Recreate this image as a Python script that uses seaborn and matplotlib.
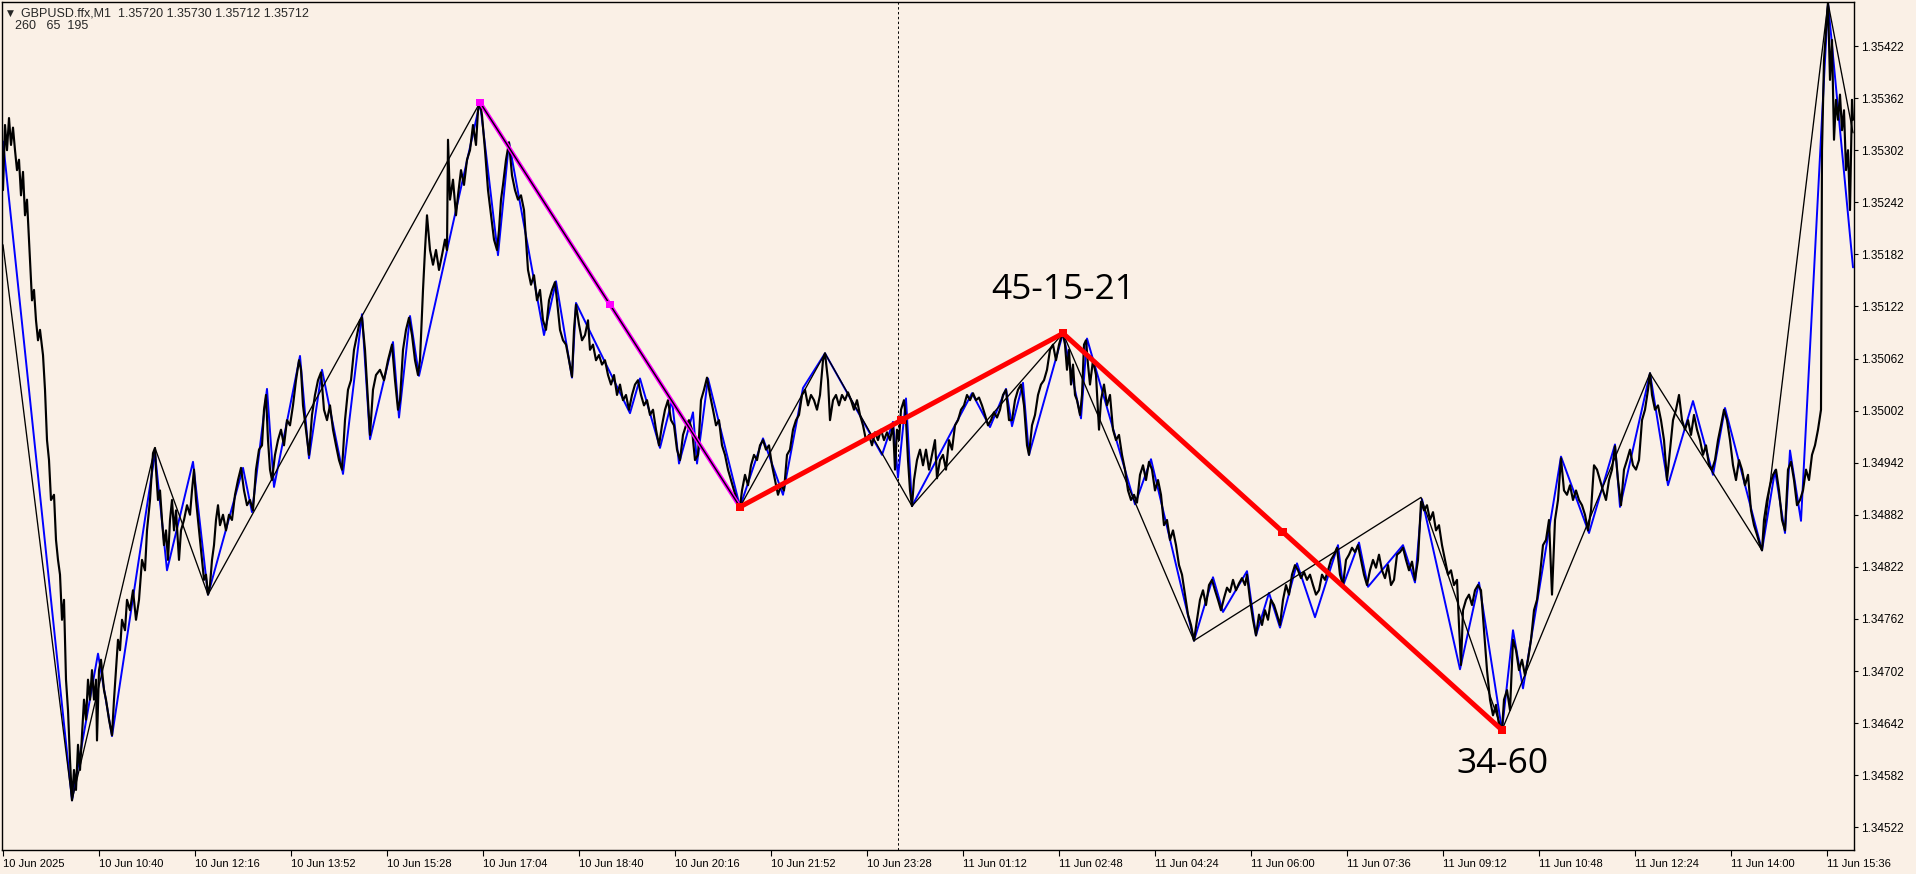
import matplotlib
matplotlib.use("Agg")
import matplotlib.pyplot as plt
import pandas as pd
import seaborn as sns

# bars are 1-minute bars counted from 10 Jun 09:04, prices are in points (1e-5)
SYMBOL = "GBPUSD.ffx,M1"
LAST_OHLC = ["1.35720", "1.35730", "1.35712", "1.35712"]
INFO_LINE = "260   65  195"

time_ticks = [0, 96, 192, 288, 384, 480, 576, 672, 768, 864,
              960, 1056, 1152, 1248, 1344, 1440, 1536, 1632, 1728, 1824]
time_labels = ["10 Jun 2025", "10 Jun 10:40", "10 Jun 12:16", "10 Jun 13:52", "10 Jun 15:28",
               "10 Jun 17:04", "10 Jun 18:40", "10 Jun 20:16", "10 Jun 21:52", "10 Jun 23:28",
               "11 Jun 01:12", "11 Jun 02:48", "11 Jun 04:24", "11 Jun 06:00", "11 Jun 07:36",
               "11 Jun 09:12", "11 Jun 10:48", "11 Jun 12:24", "11 Jun 14:00", "11 Jun 15:36"]
price_levels = ["1.34522", "1.34582", "1.34642", "1.34702", "1.34762", "1.34822", "1.34882",
                "1.34942", "1.35002", "1.35062", "1.35122", "1.35182", "1.35242", "1.35302",
                "1.35362", "1.35422"]
day_separator_bar = 895
view_bars = (-1, 1851)
view_prices = (1.344958, 1.354727)

price_path = [
    (0, 135256), (2, 135331), (4, 135302), (6, 135339), (8, 135308), (10, 135328), (12, 135302),
    (14, 135279), (16, 135291), (18, 135250), (20, 135277), (22, 135227), (24, 135245), (27, 135176),
    (29, 135129), (31, 135141), (33, 135106), (35, 135083), (37, 135095), (40, 135066), (42, 135026),
    (44, 134968), (46, 134945), (48, 134899), (51, 134905), (53, 134853), (55, 134830), (57, 134813),
    (59, 134761), (61, 134784), (63, 134692), (65, 134657), (67, 134600), (69, 134553),
    (71, 134588), (73, 134565), (75, 134617), (77, 134588), (79, 134628), (81, 134669), (83, 134646),
    (85, 134692), (87, 134669), (89, 134703), (91, 134669), (93, 134692), (94, 134622), (96, 134703),
    (98, 134715), (101, 134680), (103, 134669), (106, 134646), (109, 134628), (111, 134669),
    (113, 134703), (115, 134738), (117, 134726), (119, 134761), (122, 134749), (124, 134784),
    (127, 134772), (130, 134795), (133, 134761), (136, 134784), (139, 134830), (142, 134818),
    (144, 134864), (147, 134899), (150, 134953), (152, 134959),
    (153, 134934), (155, 134899), (157, 134910), (159, 134876), (161, 134847), (163, 134864),
    (165, 134830), (167, 134876), (169, 134899), (171, 134864), (173, 134887), (176, 134830),
    (178, 134864), (181, 134876), (184, 134893), (187, 134882), (189, 134910), (191, 134934),
    (193, 134899), (195, 134876), (197, 134853), (199, 134830), (201, 134807), (203, 134813),
    (205, 134790),
    (207, 134801), (209, 134830), (211, 134847), (213, 134876), (215, 134893), (217, 134870),
    (220, 134882), (223, 134864), (226, 134882), (229, 134876), (232, 134905), (235, 134922),
    (238, 134936), (241, 134910), (244, 134893), (247, 134899), (250, 134887), (253, 134934),
    (256, 134957), (259, 134962), (261, 135003), (263, 135020), (265, 134968), (267, 134934),
    (269, 134922), (272, 134951), (275, 134968), (278, 134980), (281, 134962), (284, 134991),
    (287, 134985), (290, 135008), (293, 135037), (296, 135060), (298, 135049), (300, 135008),
    (303, 134980), (306, 134951), (309, 134997), (312, 135020), (315, 135037), (318, 135046),
    (321, 135003), (324, 134991), (327, 135008), (330, 134980), (333, 134962), (336, 134945),
    (339, 134934), (342, 134991), (345, 135026), (348, 135037), (351, 135072), (354, 135089),
    (357, 135106), (359, 135109), (362, 135072), (365, 135014), (367, 134974), (370, 135026),
    (373, 135043), (377, 135049), (381, 135037), (385, 135060), (389, 135078), (392, 135037),
    (395, 135003), (397, 135014), (400, 135072), (403, 135095), (406, 135109), (409, 135089),
    (412, 135060), (415, 135043), (417, 135060), (420, 135141), (422, 135187), (424, 135227),
    (427, 135187), (430, 135170), (433, 135187), (436, 135164), (439, 135181), (442, 135199),
    (444, 135187), (445, 135314), (447, 135245), (450, 135268), (453, 135227), (455, 135250),
    (458, 135279), (461, 135262), (464, 135291), (467, 135302), (470, 135331), (473, 135308),
    (475, 135348), (477, 135357),
    (479, 135342), (482, 135302), (485, 135256), (488, 135227), (491, 135199), (494, 135187),
    (496, 135210), (498, 135245), (500, 135262), (503, 135291), (506, 135311), (509, 135273),
    (512, 135256), (515, 135245), (518, 135250), (521, 135233), (523, 135199), (525, 135164),
    (528, 135147), (531, 135158), (534, 135129), (537, 135141), (540, 135106), (543, 135095),
    (546, 135129), (549, 135141), (552, 135150), (554, 135129), (557, 135095), (560, 135083),
    (563, 135078), (566, 135060), (569, 135041), (571, 135095), (573, 135124), (576, 135101),
    (579, 135083), (582, 135089), (585, 135106), (587, 135072), (590, 135078), (593, 135060),
    (596, 135066), (599, 135055), (602, 135060), (605, 135043), (608, 135032), (611, 135043),
    (614, 135020), (617, 135032), (620, 135014), (623, 135020), (626, 135003), (629, 135020),
    (632, 135032), (635, 135037), (638, 135020), (641, 135008), (644, 135014), (647, 134997),
    (650, 135003), (653, 134980), (656, 134962), (659, 134985), (662, 135003), (665, 135014),
    (668, 134991), (671, 134985), (674, 134957), (677, 134945), (680, 134974), (683, 134985),
    (686, 134991), (689, 134980), (692, 134945), (695, 134951), (698, 135014), (701, 135026),
    (704, 135040), (707, 135020), (710, 135003), (713, 134985), (716, 134991), (719, 134962),
    (722, 134951), (725, 134934), (728, 134922), (731, 134910), (734, 134899), (737, 134891),
    (739, 134910), (742, 134928), (745, 134916), (748, 134939), (751, 134951), (754, 134945),
    (757, 134962), (760, 134968), (763, 134957), (766, 134962), (769, 134939), (772, 134922),
    (775, 134905), (778, 134916), (781, 134910), (784, 134951), (787, 134957), (790, 134980),
    (793, 134991), (796, 134997), (799, 135020), (802, 135026), (805, 135008), (808, 135020),
    (811, 135014), (814, 135003), (817, 135020), (820, 135060), (822, 135068), (825, 135037),
    (827, 134991), (830, 135014), (833, 135020), (836, 135008), (839, 135020), (842, 135014),
    (845, 135023), (848, 135014), (851, 135003), (854, 135014), (857, 134997), (860, 134985),
    (863, 134968), (866, 134974), (869, 134962), (872, 134977), (875, 134968), (878, 134980),
    (881, 134968), (884, 134977), (887, 134968), (890, 134985), (892, 134934), (894, 134980),
    (896, 134968), (898, 135003), (901, 135014), (903, 134991), (905, 134945), (907, 134910),
    (909, 134892),
    (911, 134922), (914, 134945), (917, 134957), (920, 134939), (923, 134957), (926, 134934),
    (929, 134951), (932, 134968), (934, 134924), (937, 134945), (940, 134951), (943, 134934),
    (946, 134968), (949, 134957), (952, 134985), (955, 134991), (958, 135003), (961, 135008),
    (964, 135020), (967, 135014), (970, 135022), (973, 135014), (976, 135017), (979, 135008),
    (982, 134997), (985, 134985), (988, 134991), (991, 135000), (994, 134994), (997, 135003),
    (1000, 135020), (1003, 135026), (1006, 134991), (1009, 134991), (1012, 135014), (1015, 135026),
    (1018, 135032), (1021, 135008), (1024, 134962), (1026, 134951), (1029, 134985), (1032, 134997),
    (1035, 135020), (1038, 135032), (1041, 135037), (1044, 135049), (1047, 135072), (1050, 135078),
    (1053, 135060), (1056, 135078), (1058, 135086), (1060, 135091),
    (1062, 135078), (1064, 135049), (1066, 135072), (1068, 135032), (1070, 135055), (1072, 135020),
    (1074, 135014), (1077, 134997), (1079, 135020), (1081, 135078), (1083, 135083), (1085, 135055),
    (1087, 135032), (1090, 135060), (1093, 135043), (1096, 134980), (1098, 135014), (1101, 135032),
    (1104, 135008), (1107, 135020), (1110, 134980), (1113, 134968), (1116, 134974), (1119, 134951),
    (1122, 134934), (1125, 134910), (1128, 134899), (1131, 134905), (1134, 134896), (1137, 134928),
    (1140, 134939), (1143, 134922), (1146, 134943), (1149, 134934), (1152, 134910), (1155, 134922),
    (1158, 134905), (1161, 134870), (1164, 134876), (1167, 134853), (1170, 134864), (1173, 134847),
    (1176, 134824), (1179, 134813), (1182, 134790), (1185, 134767), (1188, 134755), (1191, 134737),
    (1194, 134761), (1197, 134784), (1200, 134795), (1203, 134778), (1206, 134801), (1209, 134807),
    (1212, 134795), (1215, 134784), (1218, 134772), (1221, 134786), (1224, 134798), (1227, 134793),
    (1230, 134807), (1233, 134795), (1236, 134803), (1239, 134809), (1242, 134801), (1244, 134813),
    (1247, 134784), (1250, 134761), (1253, 134743), (1256, 134767), (1259, 134755), (1262, 134772),
    (1265, 134761), (1268, 134784), (1271, 134778), (1274, 134767), (1277, 134755), (1280, 134784),
    (1283, 134801), (1286, 134790), (1289, 134813), (1292, 134824), (1295, 134818), (1298, 134809),
    (1301, 134816), (1304, 134807), (1307, 134813), (1310, 134801), (1313, 134790), (1316, 134795),
    (1319, 134813), (1322, 134807), (1325, 134818), (1328, 134830), (1331, 134836), (1334, 134844),
    (1337, 134813), (1340, 134801), (1343, 134830), (1346, 134836), (1349, 134844), (1352, 134839),
    (1355, 134847), (1358, 134830), (1361, 134813), (1364, 134801), (1367, 134818), (1370, 134830),
    (1373, 134821), (1376, 134836), (1379, 134818), (1382, 134809), (1385, 134824), (1388, 134801),
    (1391, 134807), (1394, 134836), (1397, 134839), (1400, 134844), (1403, 134830), (1406, 134818),
    (1409, 134828), (1412, 134807), (1415, 134830), (1418, 134897), (1421, 134887), (1424, 134893),
    (1427, 134876), (1430, 134885), (1433, 134864), (1436, 134870), (1439, 134847), (1442, 134830),
    (1445, 134813), (1448, 134818), (1451, 134801), (1454, 134807), (1456, 134755), (1458, 134709),
    (1460, 134772), (1463, 134784), (1466, 134790), (1469, 134778), (1472, 134795), (1475, 134801),
    (1478, 134795), (1481, 134749), (1484, 134703), (1487, 134669), (1490, 134651), (1493, 134663),
    (1496, 134640), (1499, 134634),
    (1501, 134669), (1504, 134680), (1507, 134657), (1510, 134738), (1513, 134726), (1516, 134703),
    (1519, 134715), (1522, 134697), (1525, 134715), (1528, 134738), (1531, 134772), (1534, 134784),
    (1537, 134813), (1540, 134847), (1543, 134853), (1546, 134876), (1549, 134790), (1552, 134876),
    (1555, 134899), (1558, 134947), (1561, 134910), (1564, 134905), (1567, 134916), (1570, 134899),
    (1573, 134910), (1576, 134899), (1579, 134893), (1582, 134882), (1585, 134864), (1588, 134887),
    (1591, 134939), (1594, 134934), (1597, 134922), (1600, 134910), (1603, 134899), (1606, 134922),
    (1609, 134934), (1612, 134961), (1615, 134922), (1618, 134893), (1621, 134934), (1624, 134945),
    (1627, 134957), (1630, 134939), (1633, 134934), (1636, 134945), (1639, 134991), (1642, 135003),
    (1645, 135026), (1647, 135045),
    (1649, 135020), (1652, 135003), (1655, 135008), (1658, 134991), (1661, 134968), (1664, 134922),
    (1667, 134957), (1670, 134991), (1673, 135003), (1676, 135020), (1679, 134991), (1682, 134980),
    (1685, 134991), (1688, 134974), (1691, 134997), (1694, 134980), (1697, 134968), (1700, 134951),
    (1703, 134962), (1706, 134939), (1709, 134934), (1712, 134945), (1715, 134968), (1718, 134985),
    (1721, 135003), (1724, 134991), (1727, 134968), (1730, 134939), (1733, 134922), (1736, 134945),
    (1739, 134934), (1742, 134916), (1745, 134928), (1748, 134887), (1751, 134870), (1754, 134859),
    (1757, 134847), (1759, 134841),
    (1761, 134876), (1764, 134899), (1767, 134916), (1770, 134928), (1773, 134934), (1776, 134910),
    (1779, 134876), (1782, 134864), (1785, 134934), (1788, 134943), (1791, 134922), (1794, 134893),
    (1797, 134899), (1800, 134910), (1803, 134934), (1806, 134922), (1809, 134951), (1812, 134962),
    (1815, 134980), (1818, 135003), (1819, 135302), (1821, 135406), (1823, 135440), (1825, 135472),
    (1827, 135383), (1829, 135429), (1831, 135314), (1833, 135360), (1835, 135337), (1837, 135366),
    (1839, 135325), (1841, 135348), (1843, 135279), (1845, 135302), (1847, 135233), (1849, 135360),
    (1850, 135337),
]

fast_zigzag = [
    (0, 135312), (69, 134553), (95, 134722), (109, 134627), (152, 134953), (164, 134818),
    (190, 134943), (205, 134790), (240, 134936), (249, 134885), (264, 135027), (271, 134914),
    (297, 135065), (306, 134947), (319, 135049), (340, 134929), (359, 135113), (367, 134969),
    (390, 135081), (396, 134994), (407, 135111), (416, 135042), (477, 135357), (495, 135181),
    (506, 135311), (541, 135089), (553, 135151), (569, 135040), (573, 135126), (627, 134999),
    (637, 135039), (657, 134959), (669, 135014), (676, 134941), (690, 135000), (694, 134941),
    (705, 135039), (737, 134891), (760, 134970), (780, 134905), (800, 135028), (822, 135068),
    (879, 134951), (890, 134989), (895, 134925), (903, 135016), (909, 134892), (969, 135022),
    (987, 134983), (1003, 135027), (1009, 134984), (1020, 135034), (1026, 134951), (1060, 135091),
    (1078, 134993), (1084, 135085), (1132, 134894), (1148, 134946), (1191, 134737), (1210, 134810),
    (1220, 134770), (1244, 134817), (1253, 134743), (1266, 134792), (1277, 134752), (1294, 134826),
    (1312, 134764), (1335, 134847), (1340, 134800), (1356, 134850), (1365, 134799), (1400, 134847),
    (1412, 134804), (1419, 134900), (1457, 134704), (1476, 134804), (1499, 134634), (1510, 134749),
    (1520, 134682), (1558, 134949), (1586, 134861), (1612, 134963), (1617, 134891), (1647, 135045),
    (1665, 134916), (1690, 135013), (1710, 134928), (1722, 135005), (1759, 134841), (1772, 134933),
    (1782, 134861), (1787, 134956), (1798, 134875), (1825, 135472), (1850, 135167),
]

slow_zigzag = [
    (0, 135193), (69, 134553), (152, 134959), (205, 134790), (477, 135357), (737, 134891),
    (822, 135068), (909, 134892), (1060, 135091), (1191, 134737), (1418, 134902), (1499, 134634),
    (1647, 135045), (1759, 134841), (1825, 135472), (1850, 135322),
]

down_leg = [(477, 135357), (737, 134891)]
pattern_legs = [(737, 134891), (1060, 135091), (1499, 134634)]
pattern_labels = ["45-15-21", "34-60"]

BG = "#FAF0E6"


def to_frame(pairs):
    df = pd.DataFrame(pairs, columns=["bar", "pts"])
    df["price"] = df["pts"] / 1e5
    return df


def midpoints(df):
    return pd.DataFrame({
        "bar": (df["bar"].values[:-1] + df["bar"].values[1:]) / 2,
        "price": (df["price"].values[:-1] + df["price"].values[1:]) / 2,
    })


sns.set_style("white", {"axes.facecolor": BG, "figure.facecolor": BG})
plt.rcParams["font.family"] = ["Liberation Sans", "DejaVu Sans"]

W, H = 1916, 874
fig = plt.figure(figsize=(W / 100, H / 100), dpi=100)
ax = fig.add_axes([2 / W, 24 / H, 1852 / W, 848 / H])

price_df = to_frame(price_path)
fast_df = to_frame(fast_zigzag)
slow_df = to_frame(slow_zigzag)
leg_df = to_frame(down_leg)
pat_df = to_frame(pattern_legs)

ax.axvline(day_separator_bar, color="black", lw=0.7, ls=(0, (2.5, 2.5)), zorder=1)

line_kw = dict(x="bar", y="price", ax=ax, sort=False, estimator=None)
sns.lineplot(data=fast_df, color="#0000FF", linewidth=1.4, zorder=2, **line_kw)
sns.lineplot(data=price_df, color="black", linewidth=1.55, zorder=3, **line_kw)
sns.lineplot(data=slow_df, color="black", linewidth=0.95, zorder=4, **line_kw)

sns.lineplot(data=leg_df, color="#FF00FF", linewidth=3.0, zorder=5, **line_kw)
sns.lineplot(data=leg_df, color="black", linewidth=1.0, zorder=6, **line_kw)
leg_marks = pd.concat([leg_df[["bar", "price"]].iloc[:1], midpoints(leg_df)])
sns.scatterplot(data=leg_marks, x="bar", y="price", marker="s", s=26,
                color="#FF00FF", edgecolor="none", zorder=7, ax=ax)

sns.lineplot(data=pat_df, color="#FF0000", linewidth=3.6, zorder=8, **line_kw)
pat_marks = pd.concat([pat_df[["bar", "price"]], midpoints(pat_df)])
sns.scatterplot(data=pat_marks, x="bar", y="price", marker="s", s=34,
                color="#FF0000", edgecolor="none", zorder=9, ax=ax)

ax.annotate(pattern_labels[0], (pat_df["bar"][1], pat_df["price"][1]),
            xytext=(0, 31.5), textcoords="offset points", ha="center", va="center",
            fontsize=25.5, family="Open Sans", color="black", zorder=10)
ax.annotate(pattern_labels[1], (pat_df["bar"][2], pat_df["price"][2]),
            xytext=(0, -24.5), textcoords="offset points", ha="center", va="center",
            fontsize=25.5, family="Open Sans", color="black", zorder=10)

ax.set_xlim(*view_bars)
ax.set_ylim(*view_prices)
ax.set_xlabel("")
ax.set_ylabel("")

ax.set_xticks(time_ticks)
ax.set_xticklabels(time_labels, ha="left", fontsize=8)
ax.yaxis.tick_right()
ax.set_yticks([float(v) for v in price_levels])
ax.set_yticklabels(price_levels, fontsize=8.5)
ax.tick_params(axis="x", direction="out", length=4.3, width=0.8, pad=2, colors="black", bottom=True)
ax.tick_params(axis="y", direction="out", length=3.0, width=0.8, pad=2, colors="black",
               right=True, left=False)
for side in ["left", "right", "top", "bottom"]:
    ax.spines[side].set_visible(True)
    ax.spines[side].set_color("black")
    ax.spines[side].set_linewidth(1.0)

fig.text(7 / W, 1 - 13 / H, "\u25bc", fontsize=6.5, va="center", ha="left",
         family=["DejaVu Sans"])
fig.text(21 / W, 1 - 13 / H, f"{SYMBOL}  {' '.join(LAST_OHLC)}", fontsize=9,
         va="center", ha="left")
fig.text(15 / W, 1 - 26 / H, INFO_LINE, fontsize=9, va="center", ha="left")

fig.savefig("out.png", dpi=100, facecolor=BG)
